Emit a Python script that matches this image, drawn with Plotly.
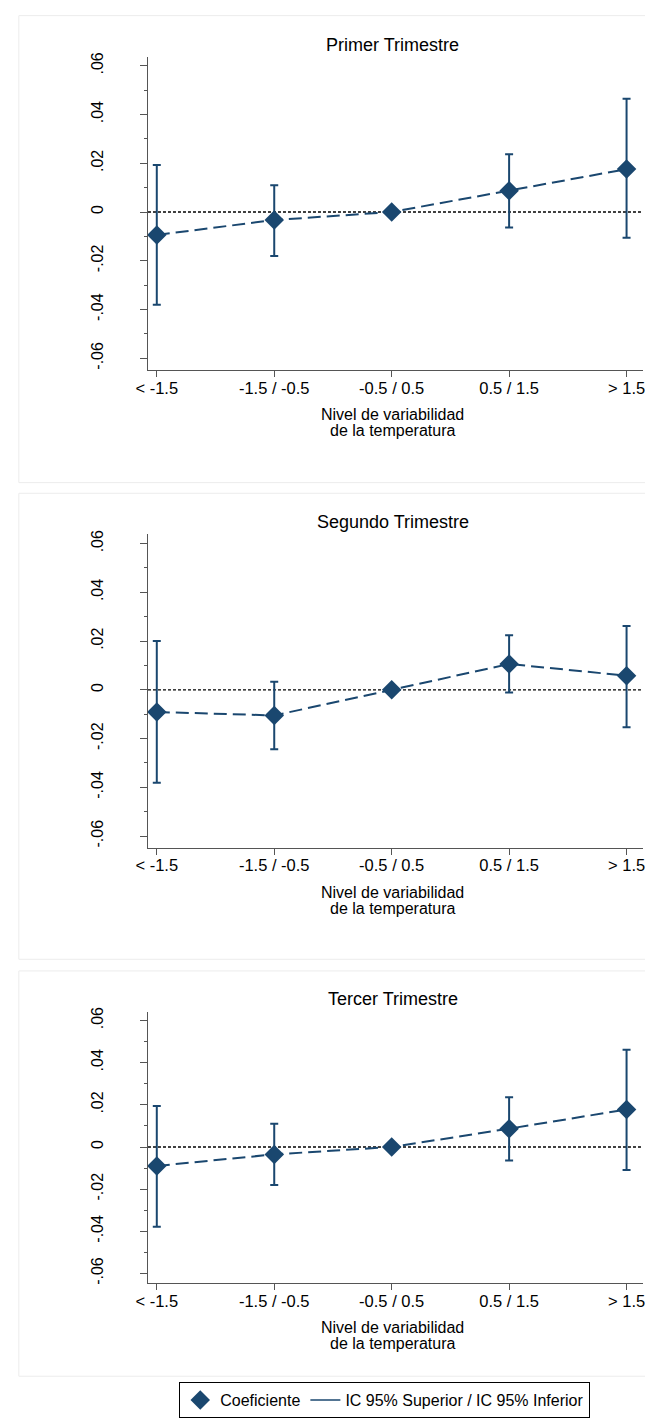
import plotly.graph_objects as go

categories = ["< -1.5", "-1.5 / -0.5", "-0.5 / 0.5", "0.5 / 1.5", "> 1.5"]
panel_titles = ["Primer Trimestre", "Segundo Trimestre", "Tercer Trimestre"]

coef_t1 = [-0.0094, -0.0033, 0.0, 0.0087, 0.0176]
upper_t1 = [0.0193, 0.0110, 0.0, 0.0237, 0.0465]
lower_t1 = [-0.0380, -0.0180, 0.0, -0.0064, -0.0106]

coef_t2 = [-0.0091, -0.0105, 0.0, 0.0106, 0.0058]
upper_t2 = [0.0200, 0.0033, 0.0, 0.0224, 0.0262]
lower_t2 = [-0.0381, -0.0244, 0.0, -0.0011, -0.0153]

coef_t3 = [-0.0090, -0.0035, 0.0, 0.0087, 0.0178]
upper_t3 = [0.0194, 0.0110, 0.0, 0.0236, 0.0462]
lower_t3 = [-0.0378, -0.0180, 0.0, -0.0064, -0.0109]

ytick_vals = [-0.06, -0.04, -0.02, 0.0, 0.02, 0.04, 0.06]
ytick_text = ["-.06", "-.04", "-.02", "0", ".02", ".04", ".06"]

x_title_lines = ["Nivel de variabilidad", "de la temperatura"]
legend_coef = "Coeficiente"
legend_ci = "IC 95% Superior / IC 95% Inferior"

NAVY = "#1a476f"
AXIS = "#555555"
FONT = "Liberation Sans, Arial, sans-serif"
W, H = 645, 1425

panels = [
    dict(coef=coef_t1, up=upper_t1, lo=lower_t1, top=52, bot=367, rng=[-0.0649, 0.0637]),
    dict(coef=coef_t2, up=upper_t2, lo=lower_t2, top=531.7, bot=846.7, rng=[-0.0647, 0.0639]),
    dict(coef=coef_t3, up=upper_t3, lo=lower_t3, top=1011.7, bot=1284, rng=[-0.0644, 0.0642]),
]
boxes = [(10.7, 480), (490.7, 959), (970.7, 1378)]
title_y = [40, 520, 999]

fig = go.Figure()
xidx = list(range(len(categories)))

for i, p in enumerate(panels):
    n = "" if i == 0 else str(i + 1)
    xa, ya = "x" + n, "y" + n
    plus = [u - c for u, c in zip(p["up"], p["coef"])]
    minus = [c - l for c, l in zip(p["coef"], p["lo"])]
    fig.add_trace(go.Scatter(
        x=xidx, y=p["coef"], mode="lines", xaxis=xa, yaxis=ya,
        line=dict(color=NAVY, width=2, dash="13px,6px"), showlegend=False,
        hoverinfo="skip"))
    fig.add_trace(go.Scatter(
        x=xidx, y=p["coef"], mode="markers", xaxis=xa, yaxis=ya,
        marker=dict(symbol="diamond", size=15, color=NAVY),
        error_y=dict(type="data", symmetric=False, array=plus, arrayminus=minus,
                     color=NAVY, thickness=2, width=4),
        name=legend_coef, showlegend=(i == 0)))
    fig.add_shape(type="line", xref=xa + " domain", yref=ya, x0=0, x1=1, y0=0, y1=0,
                  line=dict(color="black", width=1.3, dash="3px,2px"), layer="below")
    dom = [1 - p["bot"] / H, 1 - p["top"] / H]
    fig.update_layout(**{
        "xaxis" + n: dict(
            domain=[139 / W, 1.0], range=[-0.075, 4.14], anchor=ya,
            tickmode="array", tickvals=xidx, ticktext=categories,
            ticks="outside", ticklen=6, tickcolor=AXIS, showline=True, linecolor=AXIS,
            linewidth=1.2, showgrid=False, zeroline=False,
            ticklabeloverflow="allow", ticklabelstandoff=-3,
            tickfont=dict(size=16.5, color="black", family=FONT),
        ),
        "yaxis" + n: dict(
            domain=dom, range=p["rng"], anchor=xa,
            tickmode="array", tickvals=ytick_vals, ticktext=ytick_text,
            tickangle=-90, ticks="outside", ticklen=7, tickcolor=AXIS,
            showline=True, linecolor=AXIS, linewidth=1.2, showgrid=False, zeroline=False,
            ticklabelstandoff=30,
            tickfont=dict(size=16, color="black", family=FONT),
            minor=dict(ticks="outside", ticklen=3, dtick=0.01, tick0=0, tickcolor=AXIS, showgrid=False),
        ),
    })
    fig.add_annotation(text=panel_titles[i], xref="paper", yref="paper",
                       x=389 / W, y=1 - title_y[i] / H, showarrow=False,
                       xanchor="center", yanchor="middle",
                       font=dict(size=18, color="black", family=FONT))
    for k, line in enumerate(x_title_lines):
        fig.add_annotation(text=line, xref="paper", yref="paper",
                           x=389 / W, y=1 - (p["bot"] + 45 + 16 * k) / H, showarrow=False,
                           xanchor="center", yanchor="middle",
                           font=dict(size=16, color="black", family=FONT))
    b0, b1 = boxes[i]
    fig.add_shape(type="rect", xref="paper", yref="paper", x0=7 / W, x1=1.05,
                  y0=1 - b1 / H, y1=1 - b0 / H, line=dict(color="#ececec", width=1),
                  layer="below")

fig.add_trace(go.Scatter(x=[None], y=[None], mode="lines", name=legend_ci,
                         line=dict(color=NAVY, width=1.5)))

fig.update_layout(
    width=W, height=H, margin=dict(l=0, r=0, t=0, b=0),
    paper_bgcolor="white", plot_bgcolor="white",
    font=dict(family=FONT, color="black"),
    legend=dict(orientation="h", x=381 / W, y=1 - 1402 / H, xanchor="center", yanchor="middle",
                bordercolor="black", borderwidth=1, bgcolor="white",
                font=dict(size=16, family=FONT, color="black"), itemwidth=30,
                tracegroupgap=0),
)

fig.write_html("out.html", config={"displayModeBar": False},
               post_script="document.body.style.margin='0';document.body.style.overflow='hidden';")
